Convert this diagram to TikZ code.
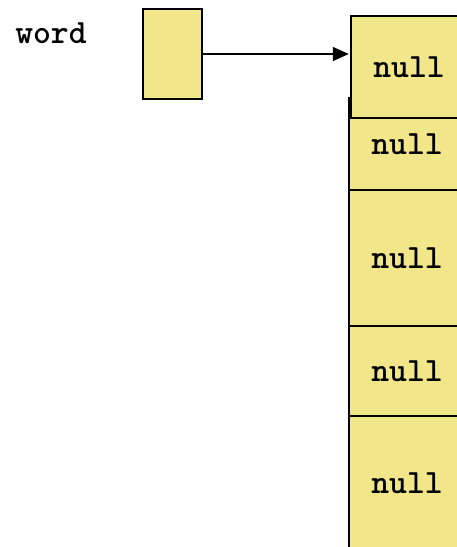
\documentclass[tikz,border=0pt]{standalone}
\usepackage{fontspec}
\usetikzlibrary{arrows.meta}
\definecolor{cellfill}{HTML}{F2E68A}
\tikzset{
  cell/.style={draw=black, line width=1.4pt, fill=cellfill, inner sep=0pt,
    font=\ttfamily\bfseries\fontsize{34}{34}\selectfont},
  label text/.style={inner sep=0pt, font=\ttfamily\bfseries\fontsize{34}{34}\selectfont},
  pointer/.style={-{Triangle[length=16pt,width=14pt]}, line width=1.3pt, shorten >=1.5pt}
}
\begin{document}
\begin{tikzpicture}[x=1pt,y=-1pt]
\useasboundingbox (0,0) rectangle (457,547);
\clip (0,0) rectangle (457,547);
% variable and its reference box
\node[label text, anchor=base] (word) at (51,43) {word};
\node[cell, minimum width=59pt, minimum height=90pt] (ref) at (172.5,54) {};
% array column (extends past the lower edge)
\node[cell, minimum width=116pt, minimum height=92pt]  (c1) at (407,144) {null};
\node[cell, minimum width=116pt, minimum height=136pt] (c2) at (407,258) {null};
\node[cell, minimum width=116pt, minimum height=90pt]  (c3) at (407,371) {null};
\node[cell, minimum width=116pt, minimum height=134pt] (c4) at (407,483) {null};
% header cell drawn on top of the column
\node[cell, minimum width=116pt, minimum height=102pt] (c0) at (409,67) {null};
% reference arrow
\draw[pointer] (ref.east) -- (ref.east -| c0.west);
\end{tikzpicture}
\end{document}
